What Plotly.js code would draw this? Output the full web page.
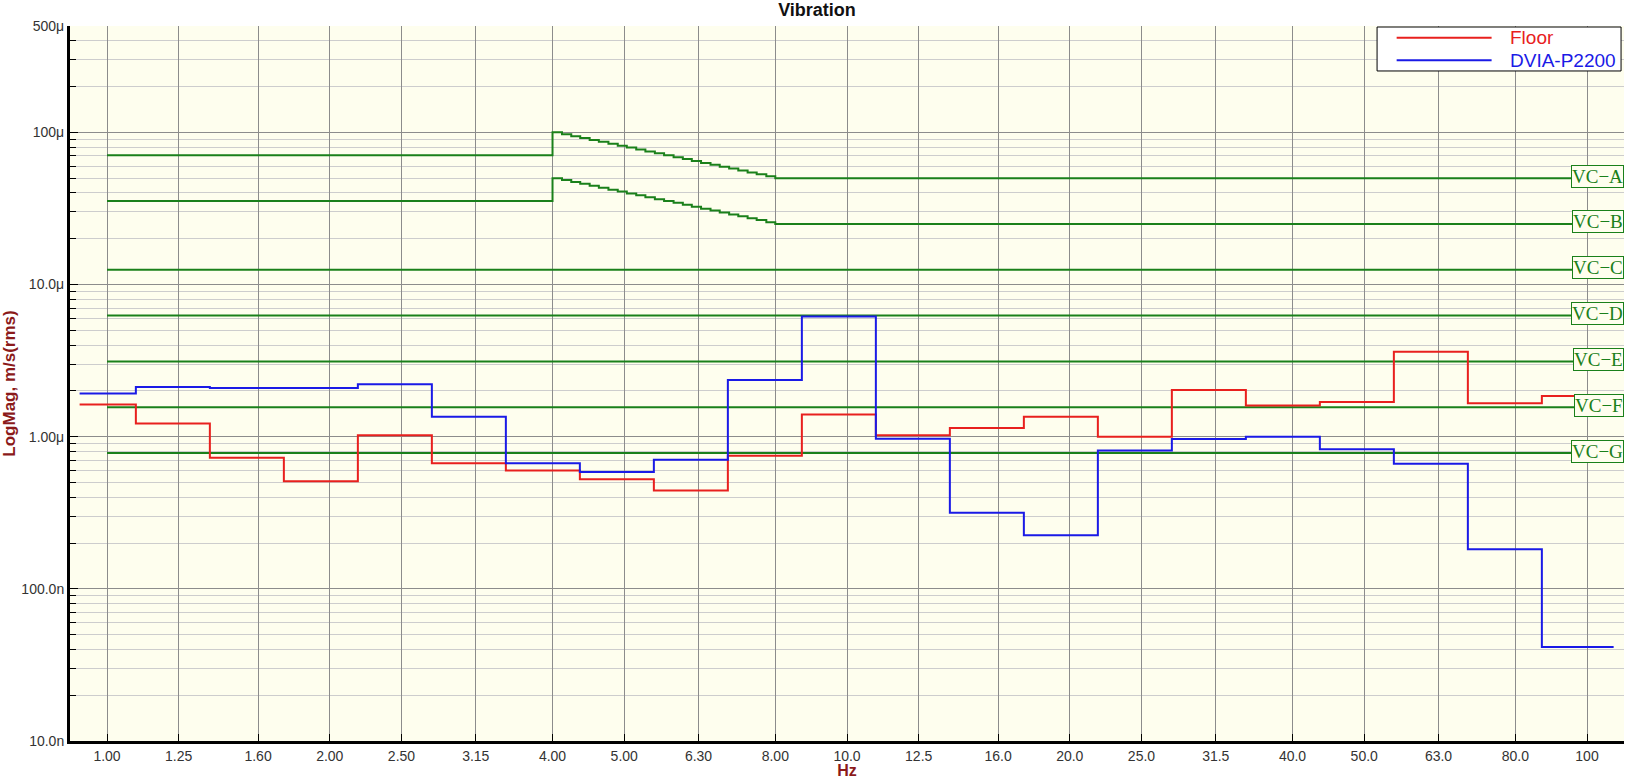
<!DOCTYPE html>
<html>
<head>
<meta charset="utf-8">
<script src="https://cdn.plot.ly/plotly-3.0.1.min.js"></script>
<style>html,body{margin:0;padding:0;background:#fff;}#chart{width:1634px;height:779px;}</style>
</head>
<body>
<div id="chart"></div>
<script>
// ---- Data ----
const bandLabels = ['1.00','1.25','1.60','2.00','2.50','3.15','4.00','5.00','6.30','8.00','10.0','12.5','16.0','20.0','25.0','31.5','40.0','50.0','63.0','80.0','100'];
const bandFreq = [1,1.25,1.6,2,2.5,3.15,4,5,6.3,8,10,12.5,16,20,25,31.5,40,50,63,80,100];
// one-third-octave band levels, micrometres per second (rms)
const floorUm = [1.63,1.22,0.726,0.510,1.02,0.670,0.600,0.526,0.443,0.748,1.40,1.02,1.14,1.35,0.998,2.03,1.60,1.69,3.61,1.66,1.85];
const dviaUm  = [1.92,2.12,2.09,2.09,2.21,1.35,0.670,0.585,0.705,2.36,6.17,0.968,0.316,0.225,0.812,0.964,0.998,0.828,0.664,0.182,0.0414];
const seriesNames = ['Floor','DVIA-P2200'];

// VC criterion curves (micrometres per second)
const vcSlopeFreq = [1,4,4.12,4.24,4.36,4.49,4.62,4.76,4.90,5.04,5.19,5.34,5.50,5.66,5.83,6.00,6.17,6.35,6.54,6.73,6.93,7.13,7.34,7.55,7.78,8,100];
const vcA = [70.7,100,97.2,94.4,91.7,89.1,86.6,84.1,81.7,79.4,77.1,74.9,72.8,70.7,68.7,66.7,64.8,63.0,61.2,59.5,57.8,56.1,54.5,53.0,51.5,50,50];
const vcB = [35.4,50,48.6,47.2,45.9,44.5,43.3,42.0,40.9,39.7,38.6,37.5,36.4,35.4,34.4,33.4,32.4,31.5,30.6,29.7,28.9,28.1,27.3,26.5,25.7,25,25];
const vcFlatFreq = [1,100];
const vcC = [12.5,12.5];
const vcD = [6.25,6.25];
const vcE = [3.125,3.125];
const vcF = [1.56,1.56];
const vcG = [0.78,0.78];
const vcNames = ['VC\u2212A','VC\u2212B','VC\u2212C','VC\u2212D','VC\u2212E','VC\u2212F','VC\u2212G'];

const yTickVals = [1e-8,1e-7,1e-6,1e-5,1e-4,5e-4];
const yTickText = ['10.0n','100.0n','1.00\u03bc','10.0\u03bc','100\u03bc','500\u03bc'];

// ---- helpers ----
const UM = 1e-6;
const FONT = 'Liberation Sans, Arial, sans-serif';
const GREEN = '#1a801a';
const RED = '#e8201e';
const BLUE = '#1a1ae6';
const PLOTBG = '#fefeee';

// band step outline: each band drawn as a flat segment across its band width
function bandSteps(vals){
  const xs=[], ys=[];
  const n = vals.length;
  for(let k=0;k<n;k++){
    const lo = k===0 ? Math.pow(10,-0.037) : Math.pow(10,(k-1)/10+0.039);
    const hi = k===n-1 ? Math.pow(10,k/10+0.036) : Math.pow(10,k/10+0.039);
    xs.push(lo,hi); ys.push(vals[k]*UM, vals[k]*UM);
  }
  return {x:xs,y:ys};
}

const fl = bandSteps(floorUm);
const dv = bandSteps(dviaUm);

const traces = [];
const vcSets = [[vcSlopeFreq,vcA],[vcSlopeFreq,vcB],[vcFlatFreq,vcC],[vcFlatFreq,vcD],[vcFlatFreq,vcE],[vcFlatFreq,vcF],[vcFlatFreq,vcG]];
vcSets.forEach((s,i)=>{
  traces.push({x:s[0], y:s[1].map(v=>v*UM), type:'scatter', mode:'lines', line:{shape:'hv', color:GREEN, width:2}, name:vcNames[i], showlegend:false, hoverinfo:'skip'});
});
traces.push({x:fl.x, y:fl.y, type:'scatter', mode:'lines', line:{color:RED, width:2}, name:seriesNames[0], showlegend:false});
traces.push({x:dv.x, y:dv.y, type:'scatter', mode:'lines', line:{color:BLUE, width:2}, name:seriesNames[1], showlegend:false});

// minor log grid values
const minorVals = [];
for(let e=-8;e<=-4;e++){ for(let m=2;m<=9;m++){ const v=m*Math.pow(10,e); if(v<5e-4) minorVals.push(v);} }

const annotations = vcSets.map((s,i)=>({
  xref:'paper', x:1, xanchor:'right', yref:'y', y:Math.log10(s[1][s[1].length-1]*UM), yanchor:'middle', yshift:2,
  text:vcNames[i], showarrow:false,
  font:{family:'Liberation Serif, Times New Roman, serif', size:19, color:GREEN},
  bgcolor:PLOTBG, bordercolor:GREEN, borderwidth:1, borderpad:0
}));

// legend box (drawn as a framed key in the top-right corner)
const legendColors = [RED, BLUE];
const legendRowY = [0.9836, 0.9520];
const shapes = [{type:'rect', xref:'paper', yref:'paper', x0:0.8411, x1:0.9981, y0:0.9371, y1:0.9986, fillcolor:'#ffffff', line:{color:'#000', width:1}, layer:'above'}];
seriesNames.forEach((nm,i)=>{
  shapes.push({type:'line', xref:'paper', yref:'paper', x0:0.8537, x1:0.9148, y0:legendRowY[i], y1:legendRowY[i], line:{color:legendColors[i], width:2}, layer:'above'});
  annotations.push({xref:'paper', yref:'paper', x:0.9253, y:legendRowY[i], xanchor:'left', yanchor:'middle', showarrow:false, text:nm, font:{family:FONT, size:19, color:legendColors[i]}});
});

const layout = {
  width:1634, height:779,
  margin:{l:70, r:10, t:26, b:38},
  paper_bgcolor:'#ffffff', plot_bgcolor:PLOTBG,
  title:{text:'Vibration', font:{family:FONT, size:18, weight:'bold', color:'#111'}, x:0.5, xref:'container', xanchor:'center', y:0.996, yref:'container', yanchor:'top', pad:{t:0,b:0}},
  showlegend:false,
  xaxis:{type:'log', range:[-0.05,2.05], tickmode:'array', tickvals:bandFreq, ticktext:bandLabels,
    showgrid:true, gridcolor:'#8c8c8c', gridwidth:1, zeroline:false,
    showline:true, linecolor:'#000', linewidth:3, ticks:'inside', ticklen:7, tickcolor:'#000',
    tickfont:{family:FONT, size:14, color:'#333'},
    title:{text:'Hz', font:{family:FONT, size:16, weight:'bold', color:'#8b1a1a'}, standoff:5}},
  yaxis:{type:'log', range:[-8, Math.log10(5e-4)], tickmode:'array', tickvals:yTickVals, ticktext:yTickText,
    showgrid:true, gridcolor:'#8c8c8c', gridwidth:1, zeroline:false,
    showline:true, linecolor:'#000', linewidth:3, ticks:'inside', ticklen:8, tickcolor:'#000',
    tickfont:{family:FONT, size:14, color:'#333'},
    minor:{tickmode:'array', tickvals:minorVals, showgrid:true, gridcolor:'#cdcdcd', gridwidth:1, ticks:'inside', ticklen:6, tickcolor:'#000'},
    title:{text:'LogMag, m/s(rms)', font:{family:FONT, size:17, weight:'bold', color:'#8b1a1a'}, standoff:8}},
  annotations:annotations,
  shapes:shapes
};

Plotly.newPlot('chart', traces, layout, {displayModeBar:false, staticPlot:true});
</script>
</body>
</html>
